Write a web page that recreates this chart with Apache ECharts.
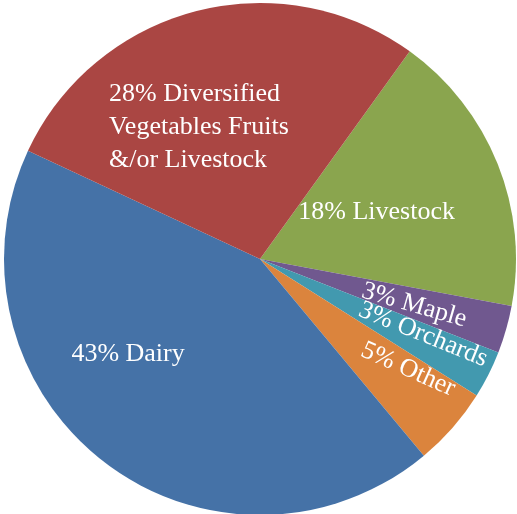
<!DOCTYPE html>
<html>
<head>
<meta charset="utf-8">
<script src="https://cdn.jsdelivr.net/npm/echarts@6/dist/echarts.min.js"></script>
<style>html,body{margin:0;padding:0;background:#fff}#c{width:517px;height:514px}</style>
</head>
<body>
<div id="c"></div>
<script>
// Data
const categories = ['Livestock', 'Maple', 'Orchards', 'Other', 'Dairy', 'Diversified\nVegetables Fruits\n&/or Livestock'];
const shares = [18, 3, 3, 5, 43, 28];

// Styling (kept separate from data)
const colors = ['#8AA54E', '#70588F', '#4299AF', '#DB843D', '#4572A7', '#AA4643'];
const labelAdjust = [
  {dx: -5, dy: 2, rotate: 0},
  {dx: 30, dy: 2, rotate: -16},
  {dx: 49, dy: -2, rotate: -22},
  {dx: 55, dy: 2, rotate: -24},
  {dx: -52, dy: -9, rotate: 0},
  {dx: -23, dy: -5, rotate: 0}
];
const font = {color: '#fff', fontFamily: 'Liberation Serif', fontSize: 26, lineHeight: 33};

const chart = echarts.init(document.getElementById('c'), null, {renderer: 'canvas'});
chart.setOption({
  animation: false,
  color: colors,
  series: [{
    type: 'pie',
    center: [260, 259],
    radius: 256,
    startAngle: 54.2,
    clockwise: true,
    avoidLabelOverlap: false,
    minShowLabelAngle: 0,
    itemStyle: {borderWidth: 0},
    label: Object.assign({
      show: true,
      position: 'inside',
      formatter: function (p) {
        const lines = p.name.split('\n');
        if (lines.length === 1) return p.value + '% ' + p.name;
        lines[0] = p.value + '% ' + lines[0];
        return lines.map(l => '{l|' + l + '}').join('\n');
      },
      textBorderWidth: 0,
      rich: {l: Object.assign({width: 190, align: 'left'}, font)}
    }, font),
    labelLine: {show: false},
    labelLayout: {hideOverlap: false},
    emphasis: {disabled: true},
    data: categories.map((n, i) => {
      const a = labelAdjust[i];
      return {name: n, value: shares[i], label: {offset: [a.dx, a.dy], rotate: a.rotate}};
    })
  }]
});
</script>
</body>
</html>
